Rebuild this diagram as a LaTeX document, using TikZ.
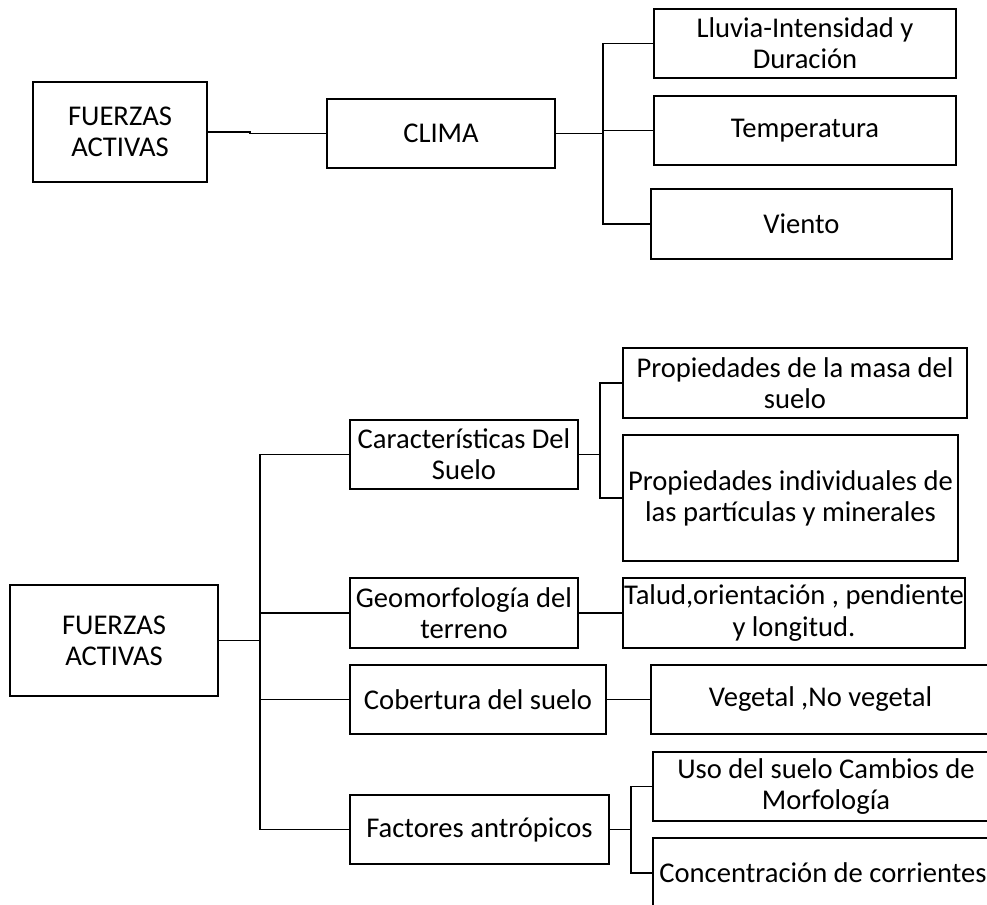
\documentclass[tikz,border=0pt]{standalone}
\usepackage{fontspec}
\setmainfont{Carlito}
\usepackage{tikz}

\tikzset{caja/.style={draw=black, line width=0.8pt, align=center, inner sep=0pt,
    font=\fontsize{14.3}{15.6}\selectfont}}

\begin{document}
\begin{tikzpicture}[x=0.5pt,y=-0.5pt,line width=0.8pt]
	\clip (0,0) rectangle (987,905);

	% clima
	\node[caja, minimum width=87pt, minimum height=50pt] (fa1) at (120,132) {FUERZAS\\ACTIVAS};
	\node[caja, minimum width=114pt, minimum height=34.5pt] (clima) at (441,133.5) {CLIMA};
	\node[caja, minimum width=151pt, minimum height=34.5pt] (lluvia) at (805,43.5) {Lluvia-Intensidad y\\Duración};
	\node[caja, minimum width=151pt, minimum height=34.5pt] (temp) at (805,130.5) {Temperatura};
	\node[caja, minimum width=150.5pt, minimum height=35pt] (viento) at (801.5,224) {Viento};
	\coordinate (b1) at (603,133.5);

	\draw (fa1.east) -- ++(42,0) |- (clima.west);
	\draw (clima.east) -- (b1);
	\draw (lluvia.west) -| (b1) |- (viento.west);
	\draw (temp.west) -| (b1);

	% suelo
	\node[caja, minimum width=104pt, minimum height=55.5pt] (fa2) at (114,640.5) {FUERZAS\\ACTIVAS};
	\node[caja, minimum width=114pt, minimum height=34.5pt] (carac) at (464,454.5) {Características Del\\Suelo};
	\node[caja, minimum width=114pt, minimum height=35pt] (geo) at (464,613) {Geomorfología del\\terreno};
	\node[caja, minimum width=128pt, minimum height=34.5pt] (cob) at (478,699.5) {Cobertura del suelo};
	\node[caja, minimum width=129.5pt, minimum height=34.5pt] (fac) at (479.5,829.5) {Factores antrópicos};

	\node[caja, minimum width=172pt, minimum height=35pt] (masa) at (795,383) {Propiedades de la masa del\\suelo};
	\node[caja, minimum width=167.5pt, minimum height=63pt] (indiv) at (790.5,498) {Propiedades individuales de\\las partículas y minerales};
	\node[caja, minimum width=171pt, minimum height=35pt] (talud) at (794,613) {Talud,orientación , pendiente\\y longitud.};
	\node[caja, minimum width=169.5pt, minimum height=34.5pt] (veg) at (820.5,699.5) {Vegetal ,No vegetal};
	\node[caja, minimum width=173pt, minimum height=34.5pt] (uso) at (826,786.5) {Uso del suelo Cambios de\\Morfología};
	\node[caja, minimum width=170pt, minimum height=35pt] (conc) at (823,873) {Concentración de corrientes};

	\coordinate (b2) at (260,640.5);
	\coordinate (b3) at (600,454.5);
	\coordinate (b4) at (631,829.5);

	\draw (fa2.east) -- (b2);
	\draw (carac.west) -| (b2) |- (fac.west);
	\draw (geo.west) -| (b2);
	\draw (cob.west) -| (b2);

	\draw (carac.east) -- (b3);
	\draw (masa.west) -| (b3) |- (indiv.west);
	\draw (geo.east) -- (talud.west);
	\draw (cob.east) -- (veg.west);
	\draw (fac.east) -- (b4);
	\draw (uso.west) -| (b4) |- (conc.west);

\end{tikzpicture}
\end{document}
